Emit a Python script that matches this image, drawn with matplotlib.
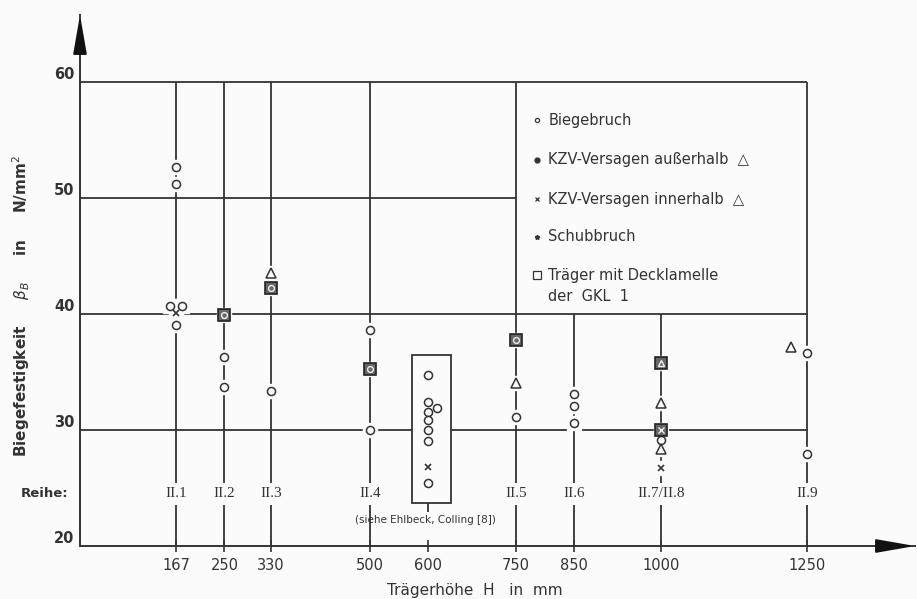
import matplotlib.pyplot as plt
from matplotlib.patches import Rectangle

# Biegefestigkeit over Traegerhoehe
bg = '#fbfbfb'
ink = '#333333'

h_ticks = [167, 250, 330, 500, 600, 750, 850, 1000, 1250]
y_ticks = [20, 30, 40, 50, 60]

reihe_h = [167, 250, 330, 500, 750, 850, 1000, 1250]
reihe_labels = ['II.1', 'II.2', 'II.3', 'II.4', 'II.5', 'II.6', 'II.7/II.8', 'II.9']

# Biegebruch (open circles)
circ_h = [167, 167, 157, 177, 167, 250, 250, 330, 500, 500,
          600, 600, 614, 600, 600, 600, 600, 600,
          750, 850, 850, 850, 1000, 1250, 1250]
circ_v = [52.7, 51.2, 40.7, 40.7, 39.05, 36.3, 33.7, 33.4, 38.6, 30.0,
          34.75, 32.4, 31.9, 31.55, 30.85, 30.0, 29.05, 25.4,
          31.1, 33.1, 32.1, 30.6, 29.1, 36.6, 27.9]

# triangles
tri_h = [330, 750, 1000, 1000, 1222]
tri_v = [43.5, 34.05, 32.3, 28.4, 37.15]

# crosses
kreuz_h = [167, 600, 1000]
kreuz_v = [40.1, 26.8, 26.7]

# Traeger mit Decklamelle (boxed), with the inner symbol
box_h = [250, 330, 500, 750, 1000, 1000]
box_v = [39.9, 42.2, 35.3, 37.8, 35.75, 30.0]
box_inner = ['o', 'o', 'o', 'o', '^', 'x']

fig = plt.figure(figsize=(9.17, 5.99), dpi=100)
fig.patch.set_facecolor(bg)
ax = fig.add_axes([80 / 917, 53 / 599, 835 / 917, 531 / 599])
ax.set_facecolor(bg)
ax.set_xlim(2, 2 + 835 / 0.5826)
ax.set_ylim(20, 20 + 531 / 11.6)

for s in ['top', 'right']:
    ax.spines[s].set_visible(False)
for s in ['left', 'bottom']:
    ax.spines[s].set_color(ink)
    ax.spines[s].set_linewidth(1.4)

# arrow heads on both axes
xmax = ax.get_xlim()[1]
ymax = ax.get_ylim()[1]
arrow = dict(arrowstyle='-|>,head_length=2.4,head_width=0.42', color='#111111',
             lw=1.4, shrinkA=0, shrinkB=0, mutation_scale=10)
ax.annotate('', xy=(2, ymax), xytext=(2, ymax - 3.2), arrowprops=arrow, annotation_clip=False)
ax.annotate('', xy=(xmax, 20), xytext=(xmax - 62, 20), arrowprops=arrow, annotation_clip=False)

ax.set_xticks(h_ticks)
ax.set_xticklabels([str(h) for h in h_ticks])
ax.set_yticks(y_ticks)
ax.tick_params(axis='x', direction='inout', length=9, width=1.2, color=ink,
               pad=4, labelsize=10.5, labelcolor=ink)
ax.tick_params(axis='y', length=0, pad=4, labelsize=10.5, labelcolor=ink)
for lab in ax.get_yticklabels():
    lab.set_verticalalignment('bottom')
    lab.set_fontweight('bold')

# grid lines drawn as in the drawing
lw = 1.3
ax.hlines([60, 40, 30], 2, 1250, color=ink, lw=lw, zorder=1)
ax.hlines(50, 2, 750, color=ink, lw=lw, zorder=1)
ax.vlines([167, 250, 330, 500, 750, 1250], 20, 60, color=ink, lw=lw, zorder=1)
ax.vlines([850, 1000], 20, 40, color=ink, lw=lw, zorder=1)
ax.vlines(600, 22.9, 23.7, color=ink, lw=lw, zorder=1)

# box around the series from Ehlbeck/Colling
ax.add_patch(Rectangle((572, 23.7), 67, 12.8, facecolor=bg, edgecolor=ink, lw=1.3, zorder=1.5))

# white halos so the lines break around the marks
all_h = circ_h + tri_h + kreuz_h + box_h
all_v = circ_v + tri_v + kreuz_v + box_v
ax.plot(all_h, all_v, 's', ms=10, color=bg, mec=bg, zorder=2)

ax.plot(circ_h, circ_v, 'o', ms=5.8, mfc=bg, mec=ink, mew=1.1, ls='none', zorder=3)
ax.plot(tri_h, tri_v, '^', ms=6.5, mfc=bg, mec=ink, mew=1.1, ls='none', zorder=3)
ax.plot(kreuz_h, kreuz_v, 'x', ms=5, mec=ink, mew=1.2, ls='none', zorder=3)
ax.plot(box_h, box_v, 's', ms=9, mfc='#666666', mec='#222222', mew=1.2, ls='none', zorder=4)
for m in ['o', '^', 'x']:
    hh = [h for h, k in zip(box_h, box_inner) if k == m]
    vv = [v for v, k in zip(box_v, box_inner) if k == m]
    ax.plot(hh, vv, m, ms=4.2, mfc='none', mec='#eeeeee', mew=1.0, ls='none', zorder=5)

# Reihe labels
ax.text(-100, 24.5, 'Reihe:', ha='left', va='center', fontsize=9.5, fontweight='bold', color=ink)
for h, lab in zip(reihe_h, reihe_labels):
    ax.text(h, 24.5, lab, ha='center', va='center', fontsize=11, color=ink,
            family='Liberation Serif', zorder=6,
            bbox=dict(boxstyle='square,pad=0.3', fc=bg, ec='none'))
ax.text(595, 22.25, '(siehe Ehlbeck, Colling [8])', ha='center', va='center',
        fontsize=7.5, color=ink, zorder=6)

# legend as in the drawing
leg_x = 786
leg_rows = [56.72, 53.28, 49.91, 46.64, 43.36]
leg_text = ['Biegebruch', 'KZV-Versagen außerhalb  △', 'KZV-Versagen innerhalb  △',
            'Schubbruch', 'Träger mit Decklamelle']
ax.plot(leg_x, leg_rows[0], 'o', ms=3, mfc='none', mec=ink, mew=0.9)
ax.plot(leg_x, leg_rows[1], 'o', ms=3.5, color=ink)
ax.plot(leg_x, leg_rows[2], 'x', ms=3, mec=ink, mew=0.9)
ax.plot(leg_x, leg_rows[3], '*', ms=3.5, color=ink)
ax.plot(leg_x, leg_rows[4], 's', ms=5.5, mfc='none', mec=ink, mew=0.9)
for y, t in zip(leg_rows, leg_text):
    ax.text(leg_x + 20, y, t, ha='left', va='center', fontsize=10.5, color=ink)
ax.text(leg_x + 20, 41.55, 'der  GKL  1', ha='left', va='center', fontsize=10.5, color=ink)

ax.set_xlabel('Trägerhöhe  H   in  mm', fontsize=11, color=ink)
ax.xaxis.set_label_coords((475 - 80) / 835, -0.07)
ax.set_ylabel('Biegefestigkeit     $\\beta_B$     in     N/mm$^2$', fontsize=11,
              fontweight='bold', color=ink)
ax.yaxis.set_label_coords(-0.058, 0.452)

plt.savefig('out.png', dpi=100, facecolor=bg)
plt.close()
